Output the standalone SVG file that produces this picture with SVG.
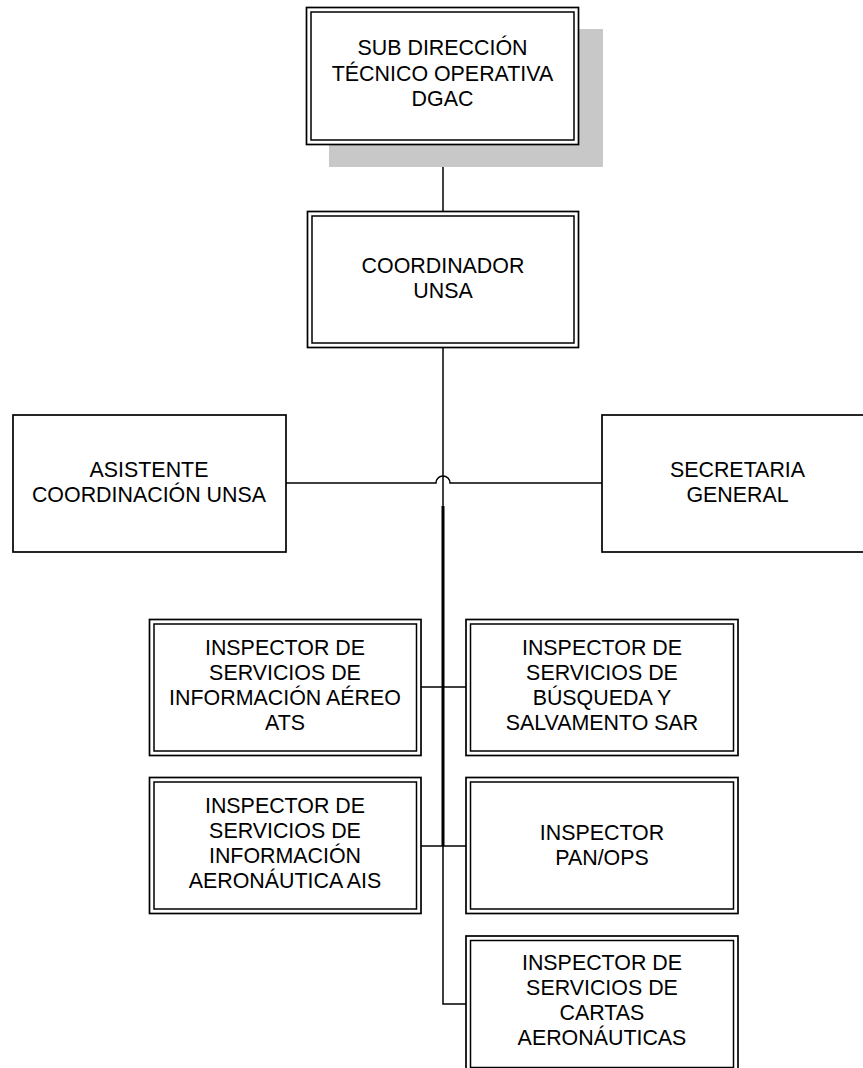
<svg xmlns="http://www.w3.org/2000/svg" width="863" height="1068" viewBox="0 0 863 1068">
<style>
.bx{fill:#ffffff;stroke:#000;stroke-width:1.7}
.in{fill:none;stroke:#000;stroke-width:1.5}
.t{font-family:"Liberation Sans",Arial,sans-serif;font-size:21.4px;fill:#000;text-anchor:middle}
.c{fill:none;stroke:#000;stroke-width:1.5}
</style>
<rect width="863" height="1068" fill="#ffffff"/>
<g id="connectors">
<line class="c" x1="443" y1="145" x2="443" y2="211"/>
<line class="c" x1="443" y1="348" x2="443" y2="506"/>
<line x1="443" y1="506" x2="443" y2="846" stroke="#000" stroke-width="3"/>
<path class="c" d="M443 846 V1004 H466"/>
<path class="c" d="M286 483 H436 A7 7 0 0 1 450 483 H602"/>
<line class="c" x1="421" y1="687" x2="466" y2="687"/>
<line class="c" x1="421" y1="846" x2="466" y2="846"/>
</g>
<g id="sub-direccion">
<rect x="329" y="29" width="274" height="138" fill="#c8c8c8"/>
<rect class="bx" x="306.5" y="7.5" width="272" height="137"/>
<rect class="in" x="311" y="12" width="263" height="128"/>
<text class="t" x="442.5" y="55">SUB DIRECCIÓN</text>
<text class="t" x="442.5" y="81">TÉCNICO OPERATIVA</text>
<text class="t" x="442.5" y="106">DGAC</text>
</g>
<g id="coordinador">
<rect class="bx" x="307.5" y="211.5" width="271" height="136"/>
<rect class="in" x="312" y="216" width="262" height="127"/>
<text class="t" x="443" y="273">COORDINADOR</text>
<text class="t" x="443" y="298">UNSA</text>
</g>
<g id="asistente">
<rect class="bx" x="13" y="415" width="273" height="137"/>
<text class="t" x="149" y="477">ASISTENTE</text>
<text class="t" x="149" y="502">COORDINACIÓN UNSA</text>
</g>
<g id="secretaria">
<rect class="bx" x="602" y="415" width="271" height="137"/>
<text class="t" x="737.5" y="477">SECRETARIA</text>
<text class="t" x="737.5" y="502">GENERAL</text>
</g>
<g id="inspector-ats">
<rect class="bx" x="149.5" y="619.5" width="271.5" height="136"/>
<rect class="in" x="154" y="624" width="262.5" height="127"/>
<text class="t" x="285" y="655">INSPECTOR DE</text>
<text class="t" x="285" y="680">SERVICIOS DE</text>
<text class="t" x="285" y="705">INFORMACIÓN AÉREO</text>
<text class="t" x="285" y="730">ATS</text>
</g>
<g id="inspector-sar">
<rect class="bx" x="466" y="619.5" width="272" height="136"/>
<rect class="in" x="470.5" y="624" width="263" height="127"/>
<text class="t" x="602" y="655">INSPECTOR DE</text>
<text class="t" x="602" y="680">SERVICIOS DE</text>
<text class="t" x="602" y="705">BÚSQUEDA Y</text>
<text class="t" x="602" y="730">SALVAMENTO SAR</text>
</g>
<g id="inspector-ais">
<rect class="bx" x="149.5" y="777.5" width="271.5" height="136"/>
<rect class="in" x="154" y="782" width="262.5" height="127"/>
<text class="t" x="285" y="813">INSPECTOR DE</text>
<text class="t" x="285" y="838">SERVICIOS DE</text>
<text class="t" x="285" y="863">INFORMACIÓN</text>
<text class="t" x="285" y="888">AERONÁUTICA AIS</text>
</g>
<g id="inspector-panops">
<rect class="bx" x="466" y="777.5" width="272" height="136"/>
<rect class="in" x="470.5" y="782" width="263" height="127"/>
<text class="t" x="602" y="840">INSPECTOR</text>
<text class="t" x="602" y="865">PAN/OPS</text>
</g>
<g id="inspector-cartas">
<rect class="bx" x="466" y="936" width="272" height="136"/>
<rect class="in" x="470.5" y="940.5" width="263" height="127"/>
<text class="t" x="602" y="970">INSPECTOR DE</text>
<text class="t" x="602" y="995">SERVICIOS DE</text>
<text class="t" x="602" y="1020">CARTAS</text>
<text class="t" x="602" y="1045">AERONÁUTICAS</text>
</g>
</svg>
